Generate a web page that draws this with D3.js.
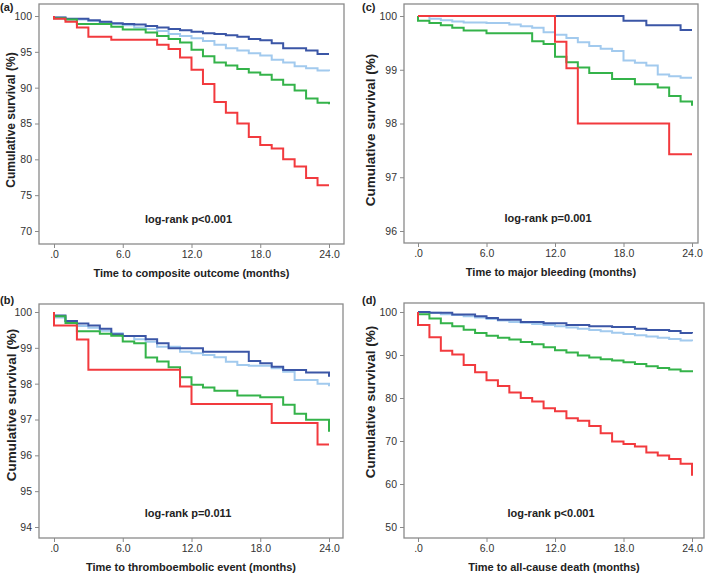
<!DOCTYPE html>
<html><head><meta charset="utf-8">
<script src="https://cdn.jsdelivr.net/npm/d3@7"></script>
<style>html,body{margin:0;padding:0;background:#fff}</style>
</head><body>
<script>
// ---------- DATA ----------
const xTicks = [0, 6, 12, 18, 24];
const seriesNames = ["light", "blue", "green", "red"];
const seriesColors = {blue: "#3b56a6", light: "#a2caee", green: "#34b34a", red: "#f23a3e"};

// Panel (a) composite outcome
const aYTicks = [70, 75, 80, 85, 90, 95, 100];
const aBlue = [[0,100],[0,99.8],[1,99.6],[3,99.4],[4,99.2],[5,99.0],[6,98.9],[7,98.8],[8,98.6],[9,98.4],[10,98.2],[11,98.0],[12,97.8],[13,97.6],[14,97.5],[15,97.3],[16,97.1],[17,96.8],[18,96.6],[19,96.2],[20,95.5],[22,95.2],[23,94.7],[24,94.7]];
const aLight = [[0,100],[0,99.8],[1,99.5],[3,99.3],[4,99.1],[5,98.9],[6,98.7],[7,98.4],[8,98.2],[9,97.9],[10,97.5],[11,97.2],[12,96.9],[13,96.5],[14,96.0],[15,95.5],[16,95.2],[17,94.8],[18,94.5],[19,93.9],[20,93.5],[21,93.0],[22,92.7],[23,92.4],[24,92.3]];
const aGreen = [[0,100],[0,99.7],[1,99.5],[2,98.9],[5,98.5],[6,98.1],[8,97.7],[9,97.2],[10,96.8],[11,96.3],[12,95.3],[13,94.4],[14,93.5],[15,93.1],[16,92.6],[17,92.1],[18,91.8],[19,91.1],[20,90.4],[21,89.6],[22,88.5],[23,87.9],[24,87.7]];
const aRed = [[0,100],[0,99.6],[1,99.2],[2,98.4],[3,97.1],[5,96.7],[9,96.0],[10,95.4],[11,94.2],[12,92.5],[13,90.5],[14,88.0],[15,86.5],[16,85.0],[17,83.1],[18,82.0],[19,81.5],[20,80.0],[21,79.0],[22,77.4],[23,76.4],[24,76.4]];

// Panel (b) thromboembolic event
const bYTicks = [94, 95, 96, 97, 98, 99, 100];
const bBlue = [[0,100],[0,99.9],[1,99.75],[2,99.68],[3,99.62],[4,99.53],[5,99.38],[6,99.33],[8,99.24],[9,99.13],[10,98.99],[13,98.89],[17,98.63],[18,98.57],[19,98.47],[20,98.38],[22,98.31],[24,98.19]];
const bLight = [[0,100],[0,99.85],[1,99.75],[2,99.61],[3,99.56],[4,99.48],[5,99.41],[6,99.33],[7,99.24],[8,99.17],[9,99.03],[11,98.89],[12,98.85],[13,98.8],[14,98.74],[15,98.61],[16,98.52],[17,98.5],[19,98.43],[20,98.33],[21,98.1],[23,98.0],[24,97.93]];
const bGreen = [[0,100],[0,99.88],[1,99.69],[2,99.46],[4,99.39],[5,99.34],[6,99.18],[7,99.13],[8,98.73],[9,98.62],[10,98.46],[11,98.18],[12,97.97],[13,97.89],[14,97.8],[16,97.67],[18,97.62],[20,97.41],[21,97.16],[22,96.99],[24,96.66]];
const bRed = [[0,100],[0,99.62],[2,99.23],[3,98.39],[11,97.92],[12,97.43],[19,96.9],[23,96.3],[24,96.3]];

// Panel (c) major bleeding
const cYTicks = [96, 97, 98, 99, 100];
const cBlue = [[0,100],[18,99.91],[20,99.83],[23,99.74],[24,99.74]];
const cLight = [[0,100],[1,99.95],[2,99.92],[3,99.9],[4,99.88],[6,99.87],[8,99.84],[9,99.81],[10,99.78],[11,99.7],[12,99.65],[13,99.59],[14,99.51],[15,99.44],[16,99.39],[17,99.35],[18,99.17],[19,99.13],[20,99.08],[21,98.91],[22,98.88],[23,98.85],[24,98.85]];
const cGreen = [[0,100],[0,99.91],[1,99.87],[2,99.83],[3,99.78],[4,99.73],[6,99.68],[10,99.53],[11,99.48],[12,99.24],[13,99.14],[14,99.04],[15,98.94],[17,98.83],[19,98.73],[21,98.67],[22,98.51],[23,98.41],[24,98.33]];
const cRed = [[0,100],[12,99.52],[13,99.03],[14,98.0],[22,97.43],[24,97.43]];

// Panel (d) all-cause death
const dYTicks = [50, 60, 70, 80, 90, 100];
const dBlue = [[0,100],[1,99.8],[3,99.4],[5,99.0],[6,98.6],[7,98.2],[9,97.7],[11,97.4],[13,97.0],[15,96.7],[17,96.5],[19,96.1],[20,95.8],[22,95.6],[23,95.1],[24,95.0]];
const dLight = [[0,100],[1,99.8],[2,99.5],[3,99.3],[4,99.0],[5,98.7],[6,98.4],[7,98.0],[8,97.7],[9,97.5],[10,97.2],[11,97.0],[12,96.7],[13,96.4],[14,96.1],[15,95.8],[16,95.5],[17,95.2],[18,94.9],[19,94.6],[20,94.3],[21,94.0],[22,93.7],[23,93.4],[24,93.2]];
const dGreen = [[0,100],[0,99.5],[1,98.5],[2,97.4],[3,96.7],[4,95.9],[5,95.1],[6,94.5],[7,94.0],[8,93.6],[9,93.0],[10,92.5],[11,91.8],[12,91.1],[13,90.6],[14,89.9],[15,89.4],[16,89.0],[17,88.7],[18,88.3],[19,87.9],[20,87.4],[21,87.0],[22,86.6],[23,86.2],[24,86.0]];
const dRed = [[0,100],[0,97.0],[1,94.1],[2,91.0],[3,90.1],[4,87.7],[5,86.0],[6,84.1],[7,82.8],[8,81.3],[9,80.0],[10,79.2],[11,77.6],[12,76.9],[13,75.3],[14,74.7],[15,73.5],[16,71.8],[17,69.9],[18,69.3],[19,68.7],[20,67.3],[21,66.6],[22,65.8],[23,64.7],[24,61.9]];

const panelLabels = ["(a)", "(b)", "(c)", "(d)"];
const xTitles = ["Time to composite outcome (months)", "Time to thromboembolic event (months)", "Time to major bleeding (months)", "Time to all-cause death (months)"];
const pTexts = ["log-rank p<0.001", "log-rank p=0.011", "log-rank p=0.001", "log-rank p<0.001"];
const yTitle = "Cumulative survival (%)";

// ---------- LAYOUT ----------
const panels = [
  {label: panelLabels[0], xTitle: xTitles[0], p: pTexts[0], yTicks: aYTicks, data: {blue: aBlue, light: aLight, green: aGreen, red: aRed},
   frame: [39, 4, 344, 244], xr: [54, 329], yv: [70, 100], yr: [231, 16], labelPos: [0, 11], yTitle: [11, 120, 12]},
  {label: panelLabels[1], xTitle: xTitles[1], p: pTexts[1], yTicks: bYTicks, data: {blue: bBlue, light: bLight, green: bGreen, red: bRed},
   frame: [39, 304, 343, 538], xr: [54, 329], yv: [94, 100], yr: [527, 312], labelPos: [0, 304], yTitle: [11, 405, 13.5]},
  {label: panelLabels[2], xTitle: xTitles[2], p: pTexts[2], yTicks: cYTicks, data: {blue: cBlue, light: cLight, green: cGreen, red: cRed},
   frame: [404, 4, 698, 243], xr: [418, 692], yv: [96, 100], yr: [231, 16], labelPos: [362, 11], yTitle: [370, 130, 13.5]},
  {label: panelLabels[3], xTitle: xTitles[3], p: pTexts[3], yTicks: dYTicks, data: {blue: dBlue, light: dLight, green: dGreen, red: dRed},
   frame: [404, 303, 704, 538], xr: [418, 692], yv: [50, 100], yr: [527, 312], labelPos: [362, 304], yTitle: [370, 402, 13.5]}
];

const svg = d3.select("body").append("svg").attr("width", 709).attr("height", 576)
  .style("font-family", "'Liberation Sans', Arial, sans-serif");
svg.append("rect").attr("width", 709).attr("height", 576).attr("fill", "#fff");

const fmt = v => v === 0 ? ".0" : d3.format(".1f")(v);

panels.forEach(P => {
  const [fx0, fy0, fx1, fy1] = P.frame;
  const x = d3.scaleLinear().domain([0, 24]).range(P.xr);
  const y = d3.scaleLinear().domain(P.yv).range(P.yr);
  const g = svg.append("g");

  g.append("rect").attr("x", fx0).attr("y", fy0).attr("width", fx1 - fx0).attr("height", fy1 - fy0)
    .attr("fill", "none").attr("stroke", "#8a8a8a").attr("stroke-width", 1.3);

  const yAxis = d3.axisLeft(y).tickValues(P.yTicks).tickSize(4).tickPadding(3).tickFormat(d3.format("d"));
  const ya = g.append("g").attr("transform", `translate(${fx0},0)`).call(yAxis);
  const xAxis = d3.axisBottom(x).tickValues(xTicks).tickSize(4).tickPadding(3).tickFormat(fmt);
  const xa = g.append("g").attr("transform", `translate(0,${fy1})`).call(xAxis);
  [ya, xa].forEach(a => {
    a.select(".domain").remove();
    a.selectAll(".tick line").attr("stroke", "#8a8a8a").attr("stroke-width", 1);
    a.selectAll(".tick text").attr("fill", "#333").style("font-size", "10.5px")
      .style("font-family", "'Liberation Sans', Arial, sans-serif");
  });

  const line = d3.line().x(d => x(d[0])).y(d => y(d[1])).curve(d3.curveStepAfter);
  seriesNames.forEach(s => {
    g.append("path").datum(P.data[s]).attr("d", line).attr("fill", "none")
      .attr("stroke", seriesColors[s]).attr("stroke-width", 2).attr("stroke-linejoin", "miter");
  });

  const cx = (fx0 + fx1) / 2;
  g.append("text").attr("x", cx).attr("y", fy1 + 33).attr("text-anchor", "middle")
    .style("font-size", "11px").style("font-weight", "bold").attr("fill", "#222").text(P.xTitle);
  g.append("text").attr("transform", `translate(${P.yTitle[0]},${P.yTitle[1]}) rotate(-90)`)
    .attr("text-anchor", "middle").attr("dy", "0.35em")
    .style("font-size", P.yTitle[2] + "px").style("font-weight", "bold").attr("fill", "#222").text(yTitle);
  g.append("text").attr("x", cx - 3).attr("y", fy1 - 21).attr("text-anchor", "middle")
    .style("font-size", "11px").style("font-weight", "bold").attr("fill", "#222").text(P.p);
  g.append("text").attr("x", P.labelPos[0]).attr("y", P.labelPos[1]).style("font-size", "11px")
    .style("font-weight", "bold").attr("fill", "#222").text(P.label);
});
</script>
</body></html>
